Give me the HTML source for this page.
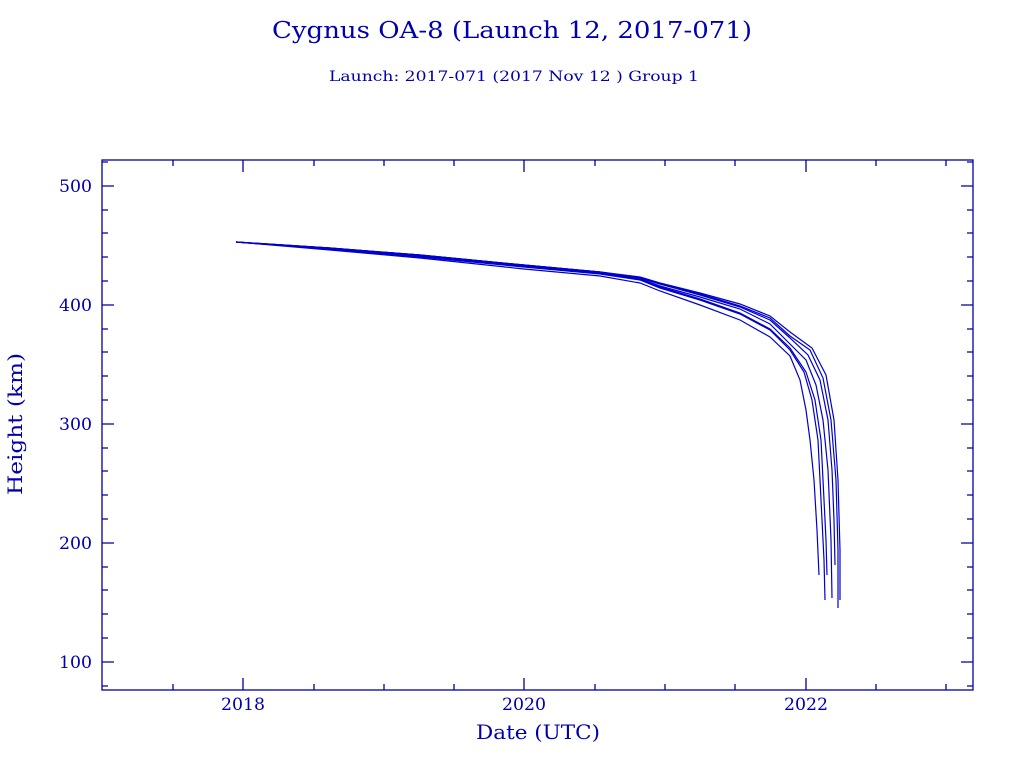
<!DOCTYPE html>
<html><head><meta charset="utf-8"><style>
body{margin:0;background:#fff;}
svg{display:block;font-family:"DejaVu Serif","Liberation Serif",serif;}
</style></head><body>
<svg width="1024" height="768" xmlns="http://www.w3.org/2000/svg">
<rect width="1024" height="768" fill="#fff"/>
<text x="272" y="38" textLength="480" lengthAdjust="spacingAndGlyphs" font-size="23" fill="#0000b0">Cygnus OA-8 (Launch 12, 2017-071)</text>
<text x="329" y="81" textLength="370" lengthAdjust="spacingAndGlyphs" font-size="14" fill="#0000b0">Launch: 2017-071  (2017 Nov 12 )  Group 1</text>
<g stroke="#0000a0" stroke-width="1.3" fill="none">
<rect x="102" y="160" width="871" height="530"/>
<path d="M102 186h12M973 186h-12M102 305h12M973 305h-12M102 424h12M973 424h-12M102 543h12M973 543h-12M102 662h12M973 662h-12"/>
<path d="M102 162h6M102 210h6M102 233h6M102 257h6M102 281h6M102 329h6M102 352h6M102 376h6M102 400h6M102 448h6M102 471h6M102 495h6M102 519h6M102 567h6M102 590h6M102 614h6M102 638h6M102 686h6
M973 162h-6M973 210h-6M973 233h-6M973 257h-6M973 281h-6M973 329h-6M973 352h-6M973 376h-6M973 400h-6M973 448h-6M973 471h-6M973 495h-6M973 519h-6M973 567h-6M973 590h-6M973 614h-6M973 638h-6M973 686h-6"/>
<path d="M243 690v-12M524 690v-12M806 690v-12M243 160v12M524 160v12M806 160v12"/>
<path d="M173 690v-6M314 690v-6M384 690v-6M454 690v-6M595 690v-6M665 690v-6M735 690v-6M876 690v-6M946 690v-6
M173 160v6M314 160v6M384 160v6M454 160v6M595 160v6M665 160v6M735 160v6M876 160v6M946 160v6"/>
</g>
<g font-size="17" fill="#0000b0">
<text x="59" y="192" textLength="33" lengthAdjust="spacingAndGlyphs">500</text>
<text x="59" y="311" textLength="33" lengthAdjust="spacingAndGlyphs">400</text>
<text x="59" y="430" textLength="33" lengthAdjust="spacingAndGlyphs">300</text>
<text x="59" y="549" textLength="33" lengthAdjust="spacingAndGlyphs">200</text>
<text x="59" y="668" textLength="33" lengthAdjust="spacingAndGlyphs">100</text>
<text x="221" y="710" textLength="44" lengthAdjust="spacingAndGlyphs">2018</text>
<text x="502" y="710" textLength="44" lengthAdjust="spacingAndGlyphs">2020</text>
<text x="784" y="710" textLength="44" lengthAdjust="spacingAndGlyphs">2022</text>
</g>
<text x="476" y="739" textLength="124" lengthAdjust="spacingAndGlyphs" font-size="20" fill="#0000b0">Date (UTC)</text>
<text transform="translate(22,495) rotate(-90)" textLength="142" lengthAdjust="spacingAndGlyphs" font-size="20" fill="#0000b0">Height (km)</text>
<g stroke="#0000cc" stroke-width="1.2" fill="none">
<path d="M236 242 L330 250 L420 258 L524 269 L600 276 L640 283 L660 291 L700 305 L740 320 L770 337 L790 356 L800 380 L806 410 L810 440 L814 480 L817 530 L819 575"/>
<path d="M236 242 L330 249 L420 257 L524 267 L600 274 L640 280 L660 288 L700 300 L740 314 L770 330 L790 350 L804 372 L812 400 L818 440 L821 500 L824 560 L825 600"/>
<path d="M236 242 L330 249 L420 256 L524 266 L600 273 L640 279 L660 287 L700 299 L740 313 L770 329 L790 348 L806 372 L815 400 L821 440 L824 500 L826 540 L827 575"/>
<path d="M236 242 L330 249 L420 256 L524 266 L600 273 L640 279 L660 286 L700 297 L740 309 L770 324 L790 344 L806 360 L816 385 L823 420 L828 470 L831 540 L832 598"/>
<path d="M236 242 L330 248 L420 255 L524 265 L600 272 L640 278 L660 284 L700 295 L740 307 L770 320 L790 338 L808 355 L820 380 L828 420 L832 470 L834 520 L835 565"/>
<path d="M236 242 L330 248 L420 255 L524 265 L600 272 L640 278 L660 284 L700 294 L740 306 L770 318 L790 336 L810 350 L823 378 L831 420 L836 480 L838 550 L838 608"/>
<path d="M236 242 L330 248 L420 255 L524 265 L600 272 L640 277 L660 283 L700 293 L740 304 L770 316 L790 332 L812 348 L826 375 L834 420 L838 480 L840 550 L840 600"/>
</g>
</svg>
</body></html>
